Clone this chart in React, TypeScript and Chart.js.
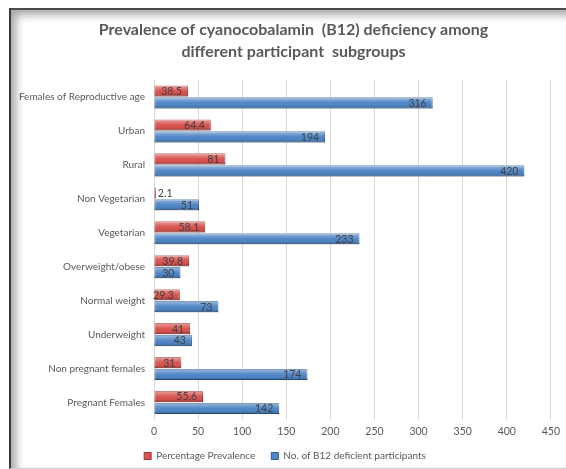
import React, { useEffect, useRef } from "react";
import { Chart, registerables } from "chart.js";

Chart.register(...registerables);

const categories = [
  "Females of Reproductive age",
  "Urban",
  "Rural",
  "Non Vegetarian",
  "Vegetarian",
  "Overweight/obese",
  "Normal weight",
  "Underweight",
  "Non pregnant females",
  "Pregnant Females",
];
const percentagePrevalence = [38.5, 64.4, 81, 2.1, 58.1, 39.8, 29.3, 41, 31, 55.6];
const deficientParticipants = [316, 194, 420, 51, 233, 30, 73, 43, 174, 142];
const titleLines = [
  "Prevalence of cyanocobalamin  (B12) deficiency among",
  "different participant  subgroups",
];
const seriesNames = ["Percentage Prevalence", "No. of B12 deficient participants"];

const FONT = "Lato, 'Open Sans', sans-serif";

const titlePlugin = {
  id: "twoLineTitle",
  afterDraw(chart: any) {
    const ctx = chart.ctx;
    ctx.save();
    ctx.font = `bold 16px ${FONT}`;
    ctx.fillStyle = "#595959";
    ctx.textAlign = "center";
    ctx.textBaseline = "middle";
    titleLines.forEach((line, i) => {
      ctx.fillText(line, 293.5, 30 + i * 22);
    });
    ctx.restore();
  },
};

const shadePlugin = {
  id: "shade",
  afterDatasetsDraw(chart: any) {
    const ctx = chart.ctx;
    chart.data.datasets.forEach((ds: any, di: number) => {
      const meta = chart.getDatasetMeta(di);
      meta.data.forEach((el: any) => {
        const p = el.getProps(["x", "y", "base", "height"], true);
        const top = p.y - p.height / 2;
        const bot = p.y + p.height / 2;
        const g = ctx.createLinearGradient(0, top, 0, bot);
        g.addColorStop(0, "rgba(255,255,255,0.45)");
        g.addColorStop(0.45, "rgba(255,255,255,0.05)");
        g.addColorStop(0.7, "rgba(0,0,0,0)");
        g.addColorStop(1, "rgba(0,0,0,0.25)");
        ctx.save();
        ctx.fillStyle = g;
        ctx.fillRect(p.base, top, p.x - p.base, p.height);
        ctx.restore();
      });
    });
  },
};

const labelPlugin = {
  id: "valueLabels",
  afterDatasetsDraw(chart: any) {
    const ctx = chart.ctx;
    ctx.save();
    ctx.font = `10.5px ${FONT}`;
    ctx.fillStyle = "#404040";
    ctx.textBaseline = "middle";
    chart.data.datasets.forEach((ds: any, di: number) => {
      const meta = chart.getDatasetMeta(di);
      meta.data.forEach((el: any, i: number) => {
        const p = el.getProps(["x", "y", "base"], true);
        const text = String(ds.data[i]);
        if (p.x - p.base > 12) {
          ctx.textAlign = "right";
          ctx.fillText(text, p.x - 6, p.y + 0.5);
        } else {
          ctx.textAlign = "left";
          ctx.fillText(text, p.x + 2, p.y + 0.5);
        }
      });
    });
    ctx.restore();
  },
};

export default function App() {
  const ref = useRef<HTMLCanvasElement | null>(null);
  useEffect(() => {
    if (!ref.current) return;
    const chart = new Chart(ref.current, {
      type: "bar",
      data: {
        labels: categories,
        datasets: [
          {
            label: seriesNames[0],
            data: percentagePrevalence,
            backgroundColor: "#D9534F",
            borderColor: "#9A3532",
            borderWidth: 1,
            borderSkipped: false,
            categoryPercentage: 0.7,
            barPercentage: 0.94,
          },
          {
            label: seriesNames[1],
            data: deficientParticipants,
            backgroundColor: "#4F86C6",
            borderColor: "#2F5B8F",
            borderWidth: 1,
            borderSkipped: false,
            categoryPercentage: 0.7,
            barPercentage: 0.94,
          },
        ],
      },
      options: {
        indexAxis: "y",
        responsive: false,
        animation: false,
        maintainAspectRatio: false,
        layout: { padding: { left: 16, right: 12, top: 80, bottom: -2 } },
        scales: {
          x: {
            min: 0,
            max: 450,
            ticks: { stepSize: 50, color: "#595959", font: { family: FONT, size: 10.5 }, padding: 6 },
            grid: { color: "#D9D9D9", drawTicks: false },
            border: { display: false },
            afterFit(scale: any) {
              scale.height = 15.5;
            },
          },
          y: {
            ticks: { color: "#595959", font: { family: FONT, size: 10 }, padding: 9, autoSkip: false },
            grid: { display: false, drawTicks: false },
            border: { display: false },
            afterFit(scale: any) {
              scale.width = 138;
            },
          },
        },
        plugins: {
          title: { display: false },
          legend: {
            position: "bottom",
            labels: {
              color: "#595959",
              font: { family: FONT, size: 10 },
              boxWidth: 7,
              boxHeight: 7,
              padding: 16,
            },
          },
          tooltip: { enabled: false },
        },
      },
      plugins: [shadePlugin, labelPlugin, titlePlugin],
    });
    return () => chart.destroy();
  }, []);
  return (
    <div style={{ position: "absolute", left: 0, top: 0, width: 566, height: 469, background: "#fff", overflow: "hidden" }}>
      <canvas ref={ref} width={566} height={469} style={{ position: "absolute", left: 0, top: 0 }} />
      <div
        style={{
          position: "absolute",
          left: 9,
          top: 8,
          width: 556,
          height: 458,
          borderLeft: "2px solid #3a3a3a",
          borderTop: "2px solid #4a4a4a",
          borderRight: "1px solid #e0e0e0",
          borderBottom: "1px solid #d0d0d0",
          boxShadow: "inset 5px 5px 8px rgba(0,0,0,0.35)",
          pointerEvents: "none",
        }}
      />
    </div>
  );
}
